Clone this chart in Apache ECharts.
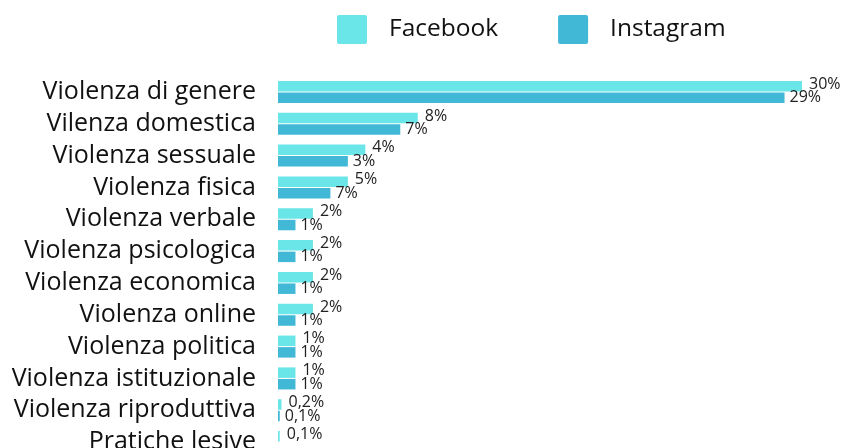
<!DOCTYPE html>
<html>
<head>
<meta charset="utf-8">
<script src="https://cdn.jsdelivr.net/npm/echarts@6/dist/echarts.min.js"></script>
<style>
html,body{margin:0;padding:0;background:#fff;}
#c{width:848px;height:448px;}
</style>
</head>
<body>
<div id="c"></div>
<script>
var categories = ["Violenza di genere","Vilenza domestica","Violenza sessuale","Violenza fisica","Violenza verbale","Violenza psicologica","Violenza economica","Violenza online","Violenza politica","Violenza istituzionale","Violenza riproduttiva","Pratiche lesive"];
var facebookValues = [30, 8, 5, 4, 2, 2, 2, 2, 1, 1, 0.2, 0.1];
var instagramValues = [29, 7, 4, 3, 1, 1, 1, 1, 1, 1, 0.1, null];
var facebookLabels = ["30%","8%","4%","5%","2%","2%","2%","2%","1%","1%","0,2%","0,1%"];
var instagramLabels = ["29%","7%","3%","7%","1%","1%","1%","1%","1%","1%","0,1%",""];

var chart = echarts.init(document.getElementById('c'), null, {renderer:'canvas'});
var font = "'Open Sans', 'Noto Sans', sans-serif";
chart.setOption({
  animation: false,
  textStyle: {fontFamily: font},
  legend: {
    top: 10, left: 332,
    itemWidth: 30, itemHeight: 29, itemGap: 60,
    icon: 'path://M2,0 L28,0 Q30,0 30,2 L30,27 Q30,29 28,29 L2,29 Q0,29 0,27 L0,2 Q0,0 2,0 Z',
    textStyle: {fontSize: 24.5, color: '#111', fontFamily: font, padding: [0,0,0,17]},
    data: ['Facebook','Instagram']
  },
  grid: {left: 278, right: 46, top: 76, height: 382, containLabel: false, outerBoundsMode: 'none'},
  xAxis: {
    type: 'value', min: 0, max: 30,
    axisLine: {show: false}, axisTick: {show: false},
    splitLine: {show: false}, axisLabel: {show: false}
  },
  yAxis: {
    type: 'category', inverse: true, data: categories,
    axisLine: {show: false}, axisTick: {show: false},
    axisLabel: {fontSize: 25, color: '#111', margin: 22, fontFamily: font, interval: 0}
  },
  series: [
    {
      name: 'Facebook', type: 'bar', data: facebookValues,
      barWidth: 10.5, barGap: '10%',
      itemStyle: {color: '#6ae6e8'},
      label: {
        show: true, position: 'right', distance: 7, offset: [0,-2],
        fontSize: 16, color: '#222', fontFamily: font,
        formatter: function(p){ return facebookLabels[p.dataIndex]; }
      }
    },
    {
      name: 'Instagram', type: 'bar', data: instagramValues,
      barWidth: 10.5,
      itemStyle: {color: '#42b8d7'},
      label: {
        show: true, position: 'right', distance: 5, offset: [0,0],
        fontSize: 16, color: '#222', fontFamily: font,
        formatter: function(p){ return instagramLabels[p.dataIndex]; }
      }
    }
  ]
});
</script>
</body>
</html>
